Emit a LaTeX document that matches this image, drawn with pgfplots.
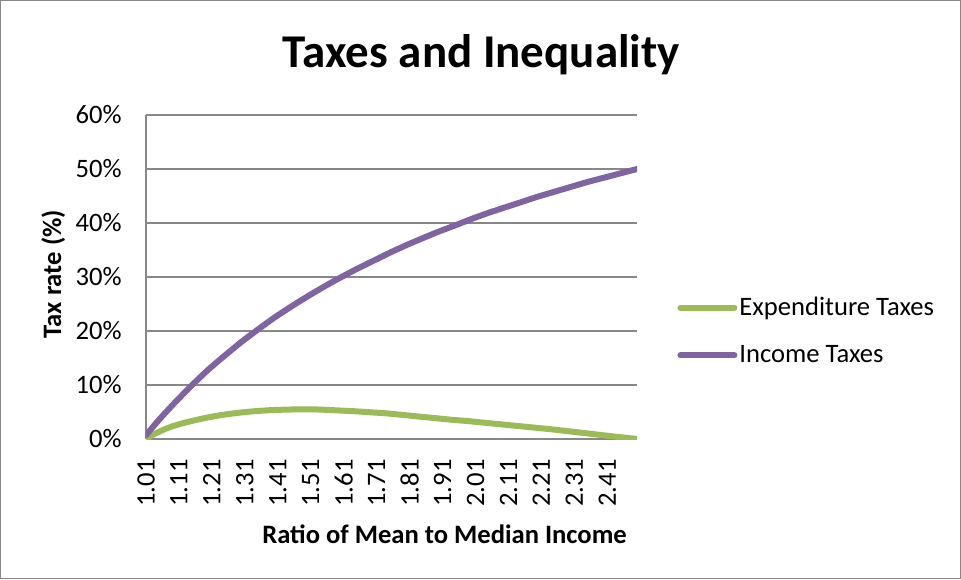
\documentclass[border=0pt]{standalone}
\usepackage{pgfplots}
\pgfplotsset{compat=1.18}
\usepackage{fontspec}
\setmainfont{Carlito}
\definecolor{expgreen}{HTML}{9BBB59}
\definecolor{incpurple}{HTML}{8064A2}
\definecolor{gridgray}{HTML}{888888}
\pgfplotstableread{
r t
1.01 0
1.03 0.75
1.05 1.35
1.07 1.9
1.09 2.35
1.12 2.9
1.15 3.35
1.19 3.9
1.24 4.45
1.29 4.85
1.34 5.15
1.39 5.35
1.44 5.45
1.49 5.5
1.54 5.45
1.59 5.3
1.64 5.15
1.69 4.95
1.74 4.75
1.79 4.45
1.84 4.15
1.89 3.85
1.94 3.55
1.99 3.3
2.04 3.0
2.09 2.7
2.14 2.4
2.19 2.1
2.24 1.8
2.29 1.45
2.34 1.1
2.39 0.75
2.44 0.4
2.50 0
}\exptable
\pgfplotstableread{
r t
1.01 0.7
1.05 3.6
1.10 6.9
1.15 10.0
1.20 12.9
1.25 15.5
1.30 18.0
1.35 20.3
1.40 22.5
1.45 24.5
1.50 26.4
1.55 28.2
1.60 29.9
1.65 31.5
1.70 33.0
1.75 34.5
1.80 35.9
1.85 37.2
1.90 38.45
1.95 39.6
2.00 40.8
2.05 41.9
2.10 42.9
2.15 43.9
2.20 44.9
2.25 45.8
2.30 46.7
2.35 47.6
2.40 48.4
2.45 49.2
2.50 50.0
}\inctable
\begin{document}
\begin{tikzpicture}
\draw[gridgray, line width=0.6pt] (0.3pt,0.3pt) rectangle (480.2pt,289.2pt);
\begin{axis}[
  at={(73pt,70pt)}, anchor=south west,
  scale only axis, width=245.5pt, height=162pt,
  xmin=1.01, xmax=2.50, ymin=0, ymax=60,
  axis lines*=left,
  axis line style={draw=gridgray, line width=1pt, -},
  ymajorgrids, grid style={draw=gridgray, line width=1pt},
  major tick length=0pt,
  ytick={0,10,20,30,40,50,60},
  yticklabel={\pgfmathprintnumber{\tick}\%},
  xtick={1.01,1.11,1.21,1.31,1.41,1.51,1.61,1.71,1.81,1.91,2.01,2.11,2.21,2.31,2.41},
  xticklabels={1.01,1.11,1.21,1.31,1.41,1.51,1.61,1.71,1.81,1.91,2.01,2.11,2.21,2.31,2.41},
  /pgf/number format/assume math mode=true,
  ticklabel style={font=\fontsize{13.3pt}{16pt}\selectfont},
  yticklabel style={anchor=east, inner sep=0pt, xshift=-12pt},
  xticklabel style={rotate=90, anchor=east, inner sep=0pt, xshift=-10pt},
  every axis title shift=0pt,
  title={Taxes and Inequality},
  title style={at={(0.683,1.148)}, anchor=base, font=\fontsize{23.5pt}{28pt}\selectfont\bfseries},
  xlabel={Ratio of Mean to Median Income},
  xlabel style={at={(0.608,-0.321)}, anchor=base, font=\fontsize{13.3pt}{16pt}\selectfont\bfseries},
  ylabel={Tax rate (\%)},
  ylabel style={at={(-0.173,0.509)}, anchor=base, font=\fontsize{13.3pt}{16pt}\selectfont\bfseries},
  legend style={draw=none, fill=none, at={(1.0815,0.333)}, anchor=west,
    font=\fontsize{13.3pt}{16pt}\selectfont, inner sep=0pt, row sep=11.5pt,
    nodes={inner sep=1pt}},
  legend cell align=left,
  legend image code/.code={\draw[#1, line width=3pt, line cap=round] (0pt,0pt) -- (27pt,0pt);},
  every axis plot/.append style={line width=3pt, line join=round, line cap=round},
]
\addplot[expgreen, no marks, smooth, tension=0.3] table[x=r, y=t] {\exptable};
\addlegendentry{Expenditure Taxes}
\addplot[incpurple, no marks, smooth, tension=0.3] table[x=r, y=t] {\inctable};
\addlegendentry{Income Taxes}
\end{axis}
\end{tikzpicture}
\end{document}
